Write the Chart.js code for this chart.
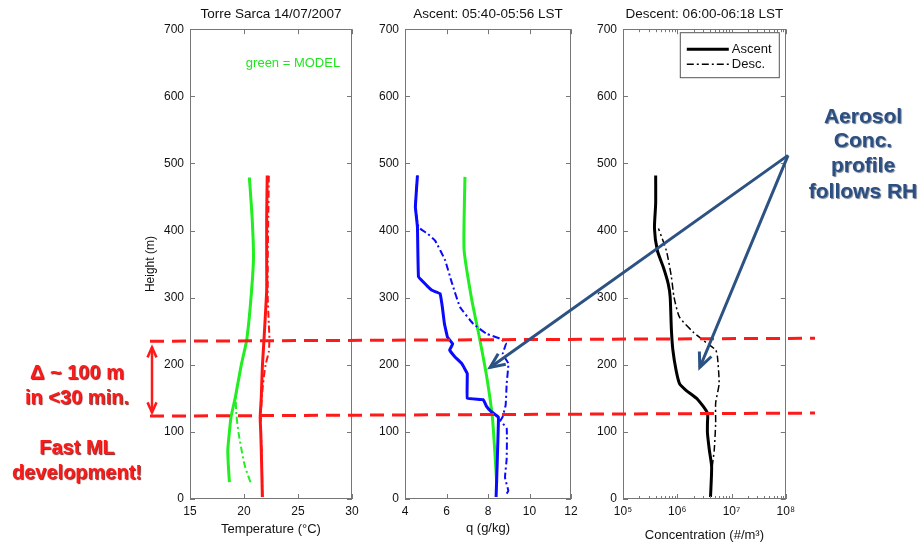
<!DOCTYPE html>
<html>
<head>
<meta charset="utf-8">
<script src="https://cdn.jsdelivr.net/npm/chart.js@4.4.0/dist/chart.umd.min.js"></script>
<style>
body { margin: 0; background: #fff; }
#wrap { position: relative; width: 919px; height: 547px; overflow: hidden; }
#wrap canvas { position: absolute; top: 0; }
</style>
</head>
<body>
<div id="wrap">
	<canvas id="c1" width="235" height="547" style="left:135px"></canvas>
	<canvas id="c2" width="220" height="547" style="left:370px"></canvas>
	<canvas id="c3" width="210" height="547" style="left:590px"></canvas>
	<canvas id="ov" width="919" height="547" style="left:0;pointer-events:none"></canvas>
</div>
<script>
// tick values
const heightTicks = [0, 100, 200, 300, 400, 500, 600, 700];
const tempTicks = [15, 20, 25, 30];
const qTicks = [4, 6, 8, 10, 12];
const concTicks = [1e5, 1e6, 1e7, 1e8];
const concTickLabels = ['10⁵', '10⁶', '10⁷', '10⁸'];

// temperature profiles (height m -> °C)
const tAscH = [3, 40, 73, 100, 122, 152, 197, 237, 280, 311, 360, 420, 482];
const tAscV = [21.7, 21.65, 21.6, 21.55, 21.5, 21.6, 21.7, 21.85, 22.0, 22.1, 22.1, 22.1, 22.15];
const tDesH = [3, 60, 122, 170, 200, 220, 240, 260, 300, 360, 420, 482];
const tDesV = [21.7, 21.65, 21.55, 21.75, 22.0, 22.3, 22.35, 22.3, 22.2, 22.2, 22.25, 22.3];
const tModH = [25, 50, 73, 100, 122, 152, 200, 237, 300, 360, 420, 479];
const tModV = [18.65, 18.55, 18.5, 18.65, 18.8, 19.2, 19.75, 20.25, 20.65, 20.88, 20.75, 20.5];
const tMod2H = [25, 48, 75, 98, 125, 152, 200, 237, 300, 360, 420, 479];
const tMod2V = [20.6, 20.1, 19.75, 19.5, 19.3, 19.25, 19.75, 20.25, 20.65, 20.88, 20.75, 20.5];

// specific humidity profiles (height m -> g/kg)
const qModH = [24, 60, 122, 180, 237, 300, 370, 420, 480];
const qModV = [8.42, 8.35, 8.21, 7.95, 7.61, 7.2, 6.85, 6.85, 6.89];
const qAscH = [3, 60, 113, 122, 131, 138, 148, 150, 187, 202, 212, 222, 231, 241, 261, 286, 306, 311, 318, 331, 405, 435, 460, 482];
const qAscV = [8.39, 8.45, 8.5, 8.5, 8.13, 7.93, 7.77, 7.0, 7.0, 6.73, 6.4, 6.15, 6.3, 6.05, 5.9, 5.8, 5.69, 5.3, 5.05, 4.65, 4.6, 4.5, 4.55, 4.6];
const qDesH = [8, 12, 32, 60, 105, 117, 122, 140, 172, 202, 216, 232, 239, 246, 261, 286, 322, 356, 385, 395, 405, 435, 482];
const qDesV = [8.9, 8.98, 8.82, 8.9, 8.9, 8.6, 8.7, 8.85, 8.9, 8.98, 8.71, 8.87, 8.58, 7.94, 7.29, 6.65, 6.26, 5.93, 5.45, 5.1, 4.65, 4.5, 4.6];

// aerosol concentration profiles (height m -> #/m3)
const cAscH = [3, 48, 73, 98, 113, 128, 148, 162, 172, 192, 222, 252, 301, 321, 346, 370, 403, 440, 482];
const cAscV = [4.1e6, 4.3e6, 3.9e6, 3.6e6, 3.6e6, 3.6e6, 2.4e6, 1.45e6, 1.1e6, 9.5e5, 8.3e5, 7.8e5, 7.4e5, 6.8e5, 5.5e5, 4.3e5, 3.8e5, 4.0e5, 4.0e5];
const cDesH = [48, 73, 113, 143, 172, 212, 222, 237, 249, 271, 301, 331, 370, 403];
const cDesV = [4.4e6, 4.8e6, 5.1e6, 5.1e6, 5.9e6, 5.5e6, 5.1e6, 2.95e6, 1.95e6, 1.1e6, 8.7e5, 7.8e5, 6.3e5, 4.5e5];

// mixed layer top at the two times (m), left and right end of the line
const mlTop = [235, 239.5];
const mlBottom = [123.5, 128];

Chart.defaults.font.family = '"Liberation Sans", Arial, sans-serif';
Chart.defaults.font.size = 12;
Chart.defaults.color = '#111';

const pts = (hs, vs) => hs.map((h, i) => ({ x: vs[i], y: h }));
const DASHDOT = [7, 3, 2, 3];

function line(hs, vs, color, width, dash, tension) {
	return {
		data: pts(hs, vs),
		showLine: true,
		borderColor: color,
		borderWidth: width,
		borderDash: dash || [],
		pointRadius: 0,
		tension: tension === undefined ? 0.2 : tension,
		fill: false
	};
}

// inward tick marks and box, matlab style
const boxTicks = {
	id: 'boxTicks',
	afterDraw(chart, args, opts) {
		const { ctx, chartArea: a, scales } = chart;
		ctx.save();
		ctx.strokeStyle = '#777';
		ctx.lineWidth = 1;
		ctx.strokeRect(Math.round(a.left) + 0.5, Math.round(a.top) + 0.5, Math.round(a.width) - 1, Math.round(a.height) - 1);
		ctx.beginPath();
		const xt = (v, len) => {
			const p = Math.round(scales.x.getPixelForValue(v)) + 0.5;
			ctx.moveTo(p, a.bottom); ctx.lineTo(p, a.bottom - len);
			ctx.moveTo(p, a.top); ctx.lineTo(p, a.top + len);
		};
		scales.x.ticks.forEach(t => xt(t.value, 5));
		(opts.minor || []).forEach(v => xt(v, 3));
		scales.y.ticks.forEach(t => {
			const p = Math.round(scales.y.getPixelForValue(t.value)) + 0.5;
			ctx.moveTo(a.left, p); ctx.lineTo(a.left + 5, p);
			ctx.moveTo(a.right, p); ctx.lineTo(a.right - 5, p);
		});
		ctx.stroke();
		ctx.restore();
	}
};

// small legend box in the concentration panel
const boxLegend = {
	id: 'boxLegend',
	afterDraw(chart, args, opts) {
		if (!opts.items) return;
		const { ctx, chartArea: a } = chart;
		const x0 = a.right - 106, y0 = a.top + 3;
		ctx.save();
		ctx.fillStyle = '#fff';
		ctx.fillRect(x0, y0, 99, 45);
		ctx.strokeStyle = '#555';
		ctx.lineWidth = 1;
		ctx.strokeRect(x0 + 0.5, y0 + 0.5, 99, 45);
		ctx.font = '13px "Liberation Sans", Arial, sans-serif';
		ctx.textBaseline = 'middle';
		opts.items.forEach((it, i) => {
			const ds = chart.data.datasets[it.ds];
			const y = y0 + 17 + i * 15;
			ctx.strokeStyle = ds.borderColor;
			ctx.lineWidth = ds.borderWidth;
			ctx.setLineDash(ds.borderDash);
			ctx.beginPath(); ctx.moveTo(x0 + 7, y); ctx.lineTo(x0 + 49, y); ctx.stroke();
			ctx.setLineDash([]);
			ctx.fillStyle = '#111';
			ctx.fillText(it.text, x0 + 52, y);
		});
		ctx.restore();
	}
};

// "green = MODEL" note
const noteText = {
	id: 'noteText',
	afterDraw(chart, args, opts) {
		if (!opts.text) return;
		const { ctx, chartArea: a } = chart;
		ctx.save();
		ctx.font = '13px "Liberation Sans", Arial, sans-serif';
		ctx.fillStyle = opts.color;
		ctx.textAlign = 'center';
		ctx.textBaseline = 'middle';
		ctx.fillText(opts.text, a.left + opts.dx, a.top + opts.dy);
		ctx.restore();
	}
};

function makePanel(id, cfg) {
	const xScale = Object.assign({
		grid: { display: false, drawTicks: false },
		border: { display: false },
		afterFit: s => { s.height = 48; }
	}, cfg.x);
	return new Chart(document.getElementById(id), {
		type: 'scatter',
		data: { datasets: cfg.datasets },
		options: {
			responsive: false,
			animation: false,
			devicePixelRatio: 1,
			layout: { padding: { left: 0, right: cfg.padRight, top: 0, bottom: 0 } },
			scales: {
				x: xScale,
				y: {
					min: 0, max: 700,
					afterBuildTicks: s => { s.ticks = heightTicks.map(v => ({ value: v })); },
					ticks: { padding: 6, font: { size: 12 } },
					grid: { display: false, drawTicks: false },
					border: { display: false },
					title: cfg.yTitle ? { display: true, text: cfg.yTitle, font: { size: 12 }, padding: { top: 8, bottom: 0 } } : { display: false },
					afterFit: s => { s.width = cfg.yWidth; }
				}
			},
			plugins: {
				legend: { display: false },
				tooltip: { enabled: false },
				title: { display: true, text: cfg.title, fullSize: false, font: { size: 13.5, weight: 'normal' }, padding: { top: 6, bottom: 7 }, color: '#111' },
				boxTicks: { minor: cfg.minor || [] },
				boxLegend: { items: cfg.legend },
				noteText: cfg.note || {}
			}
		},
		plugins: [boxTicks, boxLegend, noteText]
	});
}

const RED = '#ff1414', GREEN = '#22ee22', BLUE = '#0a0aff', BLACK = '#000';

const chartT = makePanel('c1', {
	title: 'Torre Sarca 14/07/2007',
	yTitle: 'Height (m)',
	yWidth: 55,
	padRight: 18,
	x: {
		type: 'linear', min: 15, max: 30,
		afterBuildTicks: s => { s.ticks = tempTicks.map(v => ({ value: v })); },
		ticks: { padding: 5, maxRotation: 0 },
		title: { display: true, text: 'Temperature (°C)', font: { size: 13 }, padding: { top: 0, bottom: 10 } }
	},
	note: { text: 'green = MODEL', color: '#1fe61f', dx: 103, dy: 34 },
	datasets: [
		line(tMod2H, tMod2V, GREEN, 2, DASHDOT),
		line(tModH, tModV, GREEN, 3),
		line(tDesH, tDesV, RED, 2, DASHDOT),
		line(tAscH, tAscV, RED, 3)
	]
});

const chartQ = makePanel('c2', {
	title: 'Ascent: 05:40-05:56 LST',
	yWidth: 35,
	padRight: 19,
	x: {
		type: 'linear', min: 4, max: 12,
		afterBuildTicks: s => { s.ticks = qTicks.map(v => ({ value: v })); },
		ticks: { padding: 5, maxRotation: 0 },
		title: { display: true, text: 'q (g/kg)', font: { size: 13 }, padding: { top: 0, bottom: 11 } }
	},
	datasets: [
		line(qDesH, qDesV, BLUE, 2, DASHDOT, 0.1),
		line(qAscH, qAscV, BLUE, 3, null, 0.05),
		line(qModH, qModV, GREEN, 3)
	]
});

const concMinor = [];
[1e5, 1e6, 1e7].forEach(d => { for (let k = 2; k <= 9; k++) concMinor.push(d * k); });

const chartC = makePanel('c3', {
	title: 'Descent: 06:00-06:18 LST',
	yWidth: 33,
	padRight: 13,
	x: {
		type: 'logarithmic', min: 1e5, max: 1e8,
		afterBuildTicks: s => { s.ticks = concTicks.map(v => ({ value: v })); },
		ticks: { padding: 5, maxRotation: 0, autoSkip: false, callback: v => concTickLabels[concTicks.indexOf(v)] },
		title: { display: true, text: 'Concentration (#/m³)', font: { size: 13 }, padding: { top: 0, bottom: 4 } }
	},
	minor: concMinor,
	legend: [{ ds: 1, text: 'Ascent' }, { ds: 0, text: 'Desc.' }],
	datasets: [
		line(cDesH, cDesV, BLACK, 1.5, DASHDOT),
		line(cAscH, cAscV, BLACK, 3)
	]
});

// annotations drawn over the three panels
const ov = document.getElementById('ov').getContext('2d');
const offs = { c1: 135, c2: 370, c3: 590 };
function px(chart, left, x, y) {
	return [left + chart.scales.x.getPixelForValue(x), chart.scales.y.getPixelForValue(y)];
}
function head(ctx, x, y, ang, len, spread) {
	ctx.beginPath();
	ctx.moveTo(x - len * Math.cos(ang - spread), y - len * Math.sin(ang - spread));
	ctx.lineTo(x, y);
	ctx.lineTo(x - len * Math.cos(ang + spread), y - len * Math.sin(ang + spread));
	ctx.stroke();
}
function arrow(ctx, a, b, len, spread, both) {
	ctx.beginPath(); ctx.moveTo(a[0], a[1]); ctx.lineTo(b[0], b[1]); ctx.stroke();
	const ang = Math.atan2(b[1] - a[1], b[0] - a[0]);
	head(ctx, b[0], b[1], ang, len, spread);
	if (both) head(ctx, a[0], a[1], ang + Math.PI, len, spread);
}

const yS = chartT.scales.y;
ov.save();
ov.lineCap = 'butt';
ov.strokeStyle = '#ff1a1a';
ov.lineWidth = 3;
ov.setLineDash([14, 8]);
[mlTop, mlBottom].forEach(m => {
	ov.beginPath();
	ov.moveTo(150, yS.getPixelForValue(m[0]));
	ov.lineTo(815, yS.getPixelForValue(m[1]));
	ov.stroke();
});
ov.setLineDash([]);
ov.lineWidth = 2.5;
ov.lineJoin = 'miter';
arrow(ov, [152, yS.getPixelForValue(226)], [152, yS.getPixelForValue(129)], 11, 0.42, true);

// blue arrows from the note to the two profiles
const start = px(chartC, offs.c3, 1.1e8, 512);
ov.strokeStyle = '#2c5283';
ov.lineWidth = 3;
arrow(ov, start, px(chartQ, offs.c2, 8.1, 196), 16, 0.42, false);
arrow(ov, start, px(chartC, offs.c3, 2.6e6, 196), 16, 0.42, false);

ov.textAlign = 'center';
ov.textBaseline = 'middle';
ov.font = 'bold 20px "Liberation Sans", Arial, sans-serif';
ov.shadowColor = 'rgba(110,0,0,0.85)';
ov.shadowOffsetX = 1;
ov.shadowOffsetY = 1;
ov.shadowBlur = 1;
ov.fillStyle = '#ff1a1a';
[['Δ ~ 100 m', 373], ['in <30 min.', 398], ['Fast ML', 448], ['development!', 473]].forEach(t => ov.fillText(t[0], 77, t[1]));

ov.font = 'bold 21px "Liberation Sans", Arial, sans-serif';
ov.shadowColor = 'rgba(20,40,70,0.6)';
ov.fillStyle = '#2b4f82';
[['Aerosol', 117], ['Conc.', 141], ['profile', 166], ['follows RH', 192]].forEach(t => ov.fillText(t[0], 863, t[1]));
ov.restore();
</script>
</body>
</html>
